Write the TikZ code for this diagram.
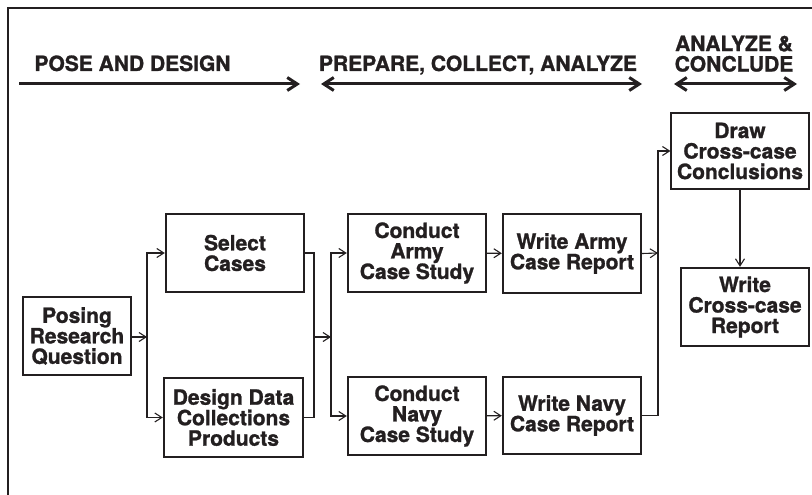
\documentclass[tikz,border=0pt]{standalone}
\usepackage{fontspec}
\setmainfont{TeX Gyre Heros}[BoldFeatures={FakeBold=1.2}]
\usetikzlibrary{arrows.meta,calc}
\definecolor{ink}{HTML}{231F20}
\begin{document}
\begin{tikzpicture}[x=1pt,y=-1pt,
  every node/.style={font=\bfseries\fontsize{21}{20.5}\selectfont, text=ink},
  thickbox/.style={draw=ink, line width=2.4pt, align=center, inner sep=0pt},
  thinbox/.style={draw=ink, line width=1.1pt, align=center, inner sep=0pt},
  conn/.style={draw=ink, line width=1.1pt, -{Straight Barb[length=7pt,width=9pt]}},
  plain/.style={draw=ink, line width=1.1pt},
  phase/.style={draw=ink, line width=3pt},
  phasehead/.tip={Straight Barb[length=10pt,width=13pt]},
  label/.style={inner sep=0pt, align=center}]
\useasboundingbox (0,0) rectangle (812,495);
% frame
\draw[ink, line width=1.4pt] (8,495) -- (8,8) -- (812,8);
% phase headers
\node[label, anchor=base] (t1) at (132.5,71) {POSE AND DESIGN};
\node[label, anchor=base] (t2) at (478,71) {PREPARE, COLLECT, ANALYZE};
\node[label, anchor=north] (t3) at (734,35.5) {ANALYZE \&\\CONCLUDE};
\coordinate (h1s) at (19,84);  \coordinate (h1e) at (300,84);
\coordinate (h2s) at (321,84); \coordinate (h2e) at (642,84);
\coordinate (h3s) at (674,84); \coordinate (h3e) at (797,84);
\draw[phase, -{phasehead}] (h1s) -- (h1e);
\draw[phase, {phasehead}-{phasehead}] (h2s) -- (h2e);
\draw[phase, {phasehead}-{phasehead}] (h3s) -- (h3e);
% boxes
\node[thickbox, minimum width=108, minimum height=78] (pose) at (77,336) {Posing\\Research\\Question};
\node[thickbox, minimum width=138, minimum height=78] (sel) at (235,253) {Select\\Cases};
\node[thickbox, minimum width=139, minimum height=79] (des) at (233.5,417.5) {Design Data\\Collections\\Products};
\node[thickbox, minimum width=138, minimum height=78] (ca) at (417,253) {Conduct\\Army\\Case Study};
\node[thickbox, minimum width=138, minimum height=78] (cn) at (417,416) {Conduct\\Navy\\Case Study};
\node[thickbox, minimum width=138, minimum height=79] (wa) at (572,253.5) {Write Army\\Case Report};
\node[thickbox, minimum width=138, minimum height=77] (wn) at (572,415.5) {Write Navy\\Case Report};
\node[thinbox, minimum width=138, minimum height=76] (dr) at (740,151) {Draw\\Cross-case\\Conclusions};
\node[thickbox, minimum width=128, minimum height=78] (wc) at (745,307) {Write\\Cross-case\\Report};
% junctions
\coordinate (j1) at (147,337);
\coordinate (j2) at (314,337);
\coordinate (j3) at (331,337);
\coordinate (j4) at (658,253);
% connectors
\draw[conn] (pose.east |- j1) -- (j1);
\draw[conn] (j1) |- (sel.west);
\draw[conn] (j1) |- (des.west);
\draw[plain] (sel.east) -| (j2) |- (des.east);
\draw[conn] (j2) -- (j3);
\draw[conn] (j3) |- (ca.west);
\draw[conn] (j3) |- (cn.west);
\draw[conn] (ca) -- (wa);
\draw[conn] (cn) -- (wn);
\draw[conn] (wa.east) -- (j4);
\draw[conn] (wn.east) -| (j4) |- (dr.west);
\draw[conn] (dr.south) -- (dr.south |- wc.north);
\end{tikzpicture}
\end{document}
